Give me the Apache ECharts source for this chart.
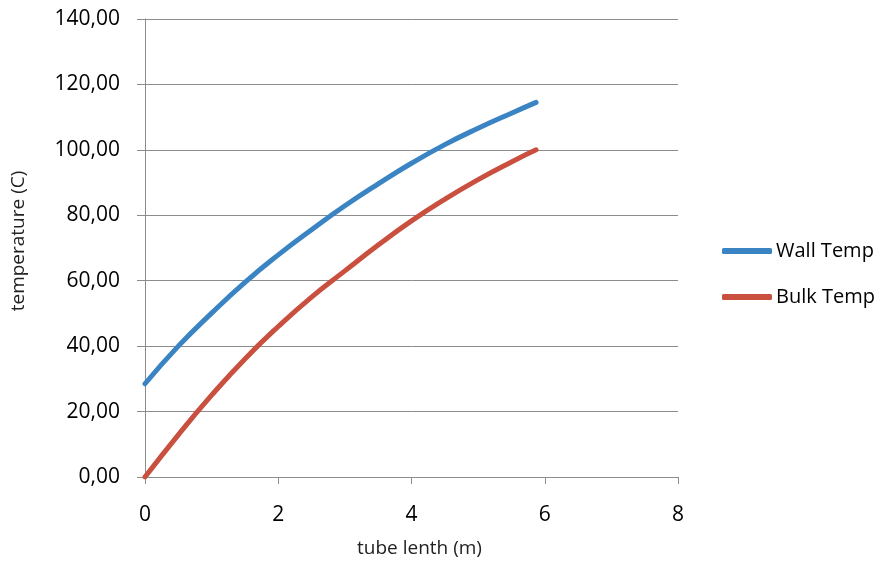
<!DOCTYPE html>
<html>
<head>
<meta charset="utf-8">
<script src="https://cdn.jsdelivr.net/npm/echarts@6/dist/echarts.min.js"></script>
<style>
  html, body { margin: 0; padding: 0; background: #fff; }
  #chart { width: 880px; height: 563px; }
</style>
</head>
<body>
<div id="chart"></div>
<script>
// Position along the tube (m)
const tubeLength = [0, 0.5, 1.0, 1.5, 2.0, 2.5, 3.0, 3.5, 4.0, 4.5, 5.0, 5.5, 5.87];
// Wall temperature (C)
const wallTemp = [28.5, 40.0, 50.1, 59.5, 67.9, 75.6, 82.9, 89.6, 95.9, 101.6, 106.6, 111.2, 114.5];
// Bulk fluid temperature (C)
const bulkTemp = [0.0, 12.9, 25.0, 36.1, 46.0, 55.0, 63.0, 70.9, 78.3, 84.9, 90.9, 96.3, 100.0];

const seriesNames = ['Wall Temp', 'Bulk Temp'];
const xTicks = { min: 0, max: 8, step: 2 };
const yTicks = { min: 0, max: 140, step: 20 };

const font = '"Open Sans", sans-serif';
const pair = (xs, ys) => xs.map((x, i) => [x, ys[i]]);

const chart = echarts.init(document.getElementById('chart'), null, { renderer: 'canvas' });
chart.setOption({
  animation: false,
  backgroundColor: '#ffffff',
  grid: { left: 145, right: 202, top: 19, bottom: 86 },
  legend: {
    orient: 'vertical',
    left: 717,
    top: 236,
    itemGap: 26,
    itemWidth: 50,
    itemHeight: 6,
    icon: 'roundRect',
    textStyle: { fontFamily: font, fontSize: 20, color: '#000', padding: [0, 0, 0, -1] },
    data: seriesNames
  },
  xAxis: {
    type: 'value',
    min: xTicks.min, max: xTicks.max, interval: xTicks.step,
    name: 'tube lenth (m)',
    nameLocation: 'middle',
    nameGap: 62,
    nameTextStyle: { fontFamily: font, fontSize: 19, color: '#222', padding: [0, 0, 0, 16] },
    axisLine: { show: true, onZero: false, lineStyle: { color: '#8c8c8c', width: 1 } },
    axisTick: { show: true, length: 7, lineStyle: { color: '#8c8c8c' } },
    axisLabel: { fontFamily: font, fontSize: 21, color: '#000', margin: 28 },
    splitLine: { show: false }
  },
  yAxis: {
    type: 'value',
    min: yTicks.min, max: yTicks.max, interval: yTicks.step,
    name: 'temperature (C)',
    nameLocation: 'middle',
    nameGap: 117,
    nameRotate: 90,
    nameTextStyle: { fontFamily: font, fontSize: 19, color: '#222', padding: [0, 0, 0, 14] },
    axisLine: { show: true, lineStyle: { color: '#8c8c8c', width: 1 } },
    axisTick: { show: true, inside: false, length: 8, lineStyle: { color: '#8c8c8c' } },
    axisLabel: {
      fontFamily: font, fontSize: 21, color: '#000', margin: 25,
      formatter: v => v.toFixed(2).replace('.', ',')
    },
    splitLine: { show: true, lineStyle: { color: '#8c8c8c', width: 1 } }
  },
  series: [
    {
      name: seriesNames[0],
      type: 'line',
      smooth: true,
      showSymbol: false,
      data: pair(tubeLength, wallTemp),
      lineStyle: { color: '#3a84c4', width: 5, cap: 'round' },
      itemStyle: { color: '#3a84c4' }
    },
    {
      name: seriesNames[1],
      type: 'line',
      smooth: true,
      showSymbol: false,
      data: pair(tubeLength, bulkTemp),
      lineStyle: { color: '#c9503f', width: 5, cap: 'round' },
      itemStyle: { color: '#c9503f' }
    }
  ]
});
</script>
</body>
</html>
